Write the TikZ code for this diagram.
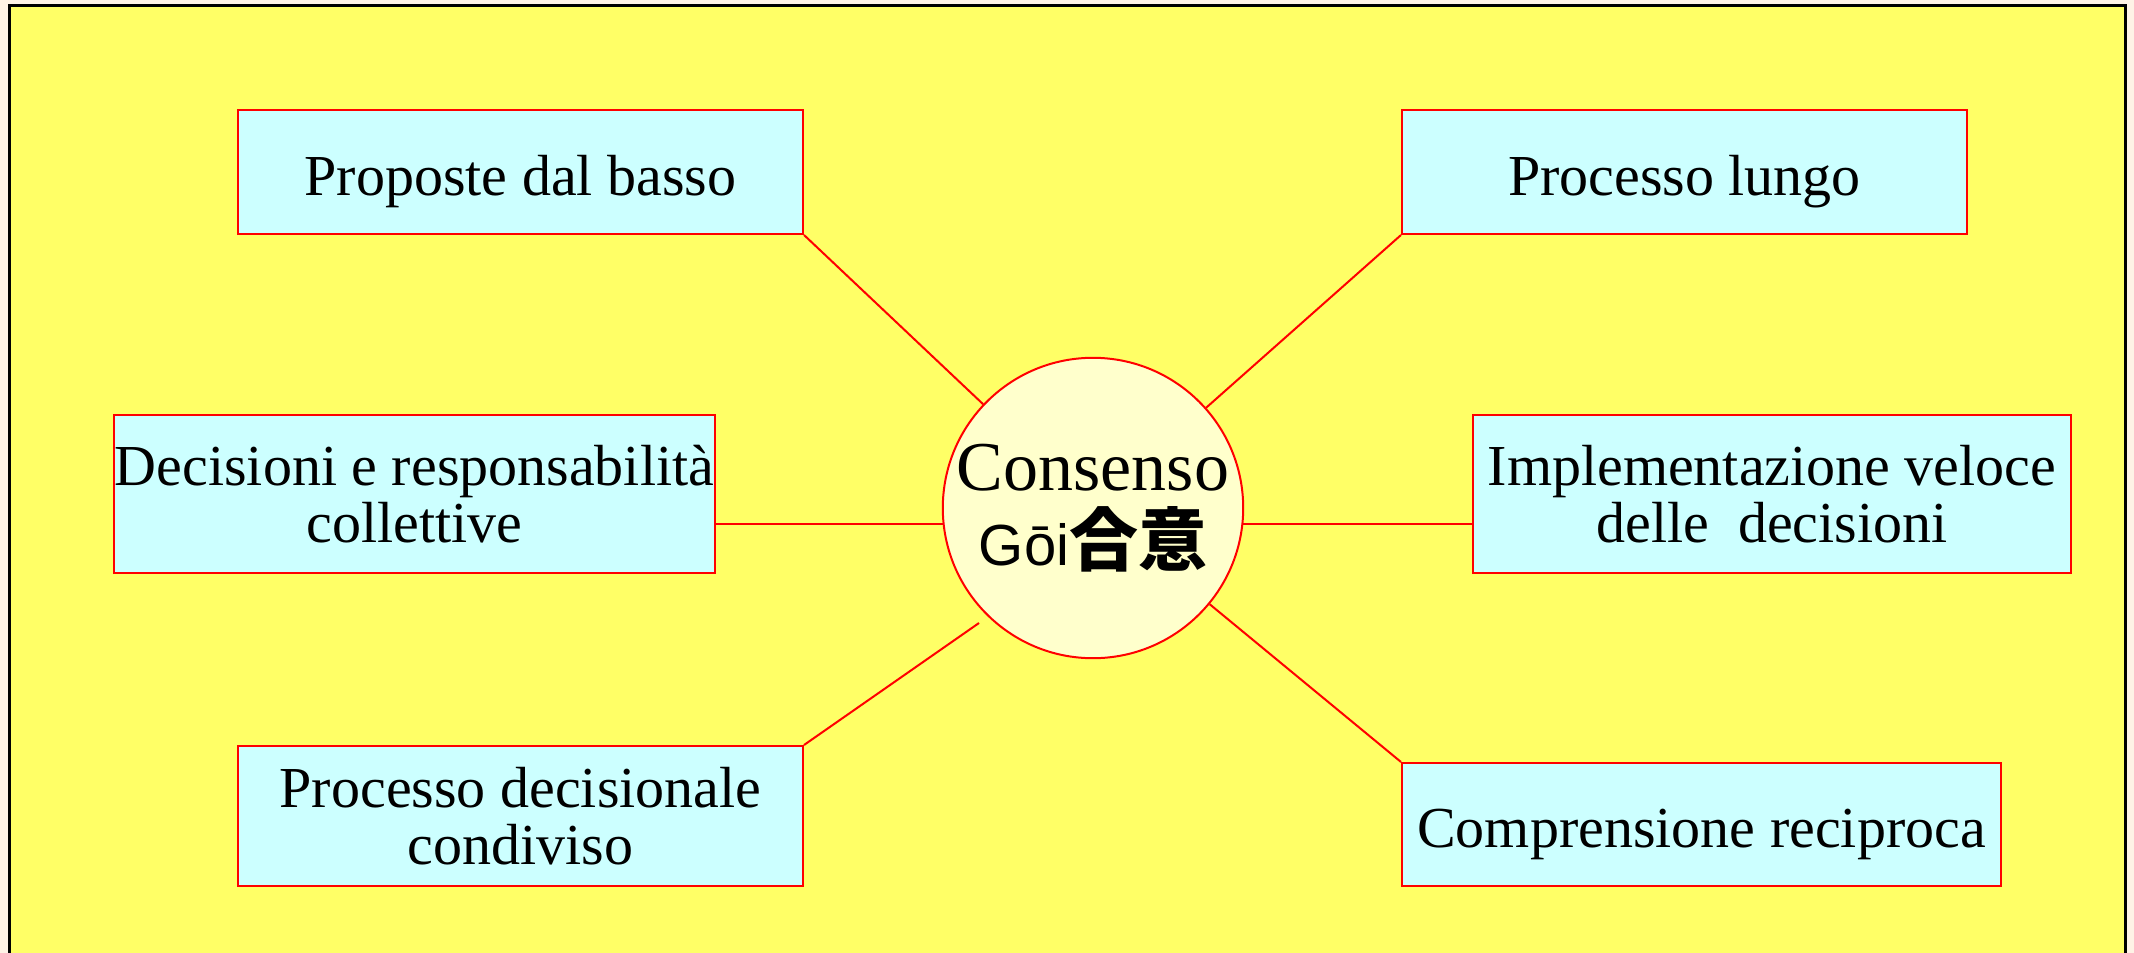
\documentclass[tikz,border=0pt]{standalone}
\usepackage{fontspec}
\setmainfont{Liberation Serif}
\newfontfamily\sansf{Liberation Sans}
\newfontfamily\cjk{Noto Sans CJK JP}
\definecolor{bgyellow}{HTML}{FFFF66}
\definecolor{boxcyan}{HTML}{CCFFFF}
\definecolor{circfill}{HTML}{FFFFCC}
\definecolor{topstrip}{HTML}{FFF3E6}
\tikzset{
  topicbox/.style={draw=red, line width=2pt, fill=boxcyan, rectangle, inner sep=0pt,
    align=center, font=\fontsize{58}{57}\selectfont},
  oneline/.style={text height=46pt, text depth=0pt},
  link/.style={draw=red, line width=2pt},
}
\begin{document}
\begin{tikzpicture}[x=1pt,y=-1pt]
\useasboundingbox (0,0) rectangle (2134,953);
\fill[topstrip] (0,0) rectangle (2134,953);
\draw[fill=bgyellow, line width=3pt] (9,5) rectangle (2125,975);
% boxes
\node[topicbox, oneline, minimum width=565pt, minimum height=124pt] (prop) at (520.5,172) {Proposte dal basso};
\node[topicbox, oneline, minimum width=565pt, minimum height=124pt] (lungo) at (1684.5,172) {Processo lungo};
\node[topicbox, minimum width=601pt, minimum height=158pt] (dec) at (414.5,494) {Decisioni e responsabilità\\collettive};
\node[topicbox, minimum width=598pt, minimum height=158pt] (impl) at (1772,494) {Implementazione veloce\\delle\ \ decisioni};
\node[topicbox, minimum width=565pt, minimum height=140pt] (cond) at (520.5,816) {Processo decisionale\\condiviso};
\node[topicbox, oneline, minimum width=599pt, minimum height=123pt] (comp) at (1701.5,824.5) {Comprensione reciproca};
% center
\node[circle, draw=red, line width=2pt, fill=circfill, minimum size=300pt, inner sep=0pt, align=center,
      font=\fontsize{70}{75}\selectfont] (c) at (1093,508)
  {Consenso\\{\sansf\fontsize{58}{75}\selectfont G\={o}i}{\cjk\bfseries\fontsize{69}{75}\selectfont 合意}};
\coordinate (condend) at (979,623);
% connectors
\draw[link] (prop.south east) -- (c);
\draw[link] (lungo.south west) -- (c);
\draw[link] (dec.east |- c.186) -- (c.186);
\draw[link] (impl.west |- c.-6) -- (c.-6);
\draw[link] (cond.north east) -- (condend);
\draw[link] (comp.north west) -- (c);
\end{tikzpicture}
\end{document}
